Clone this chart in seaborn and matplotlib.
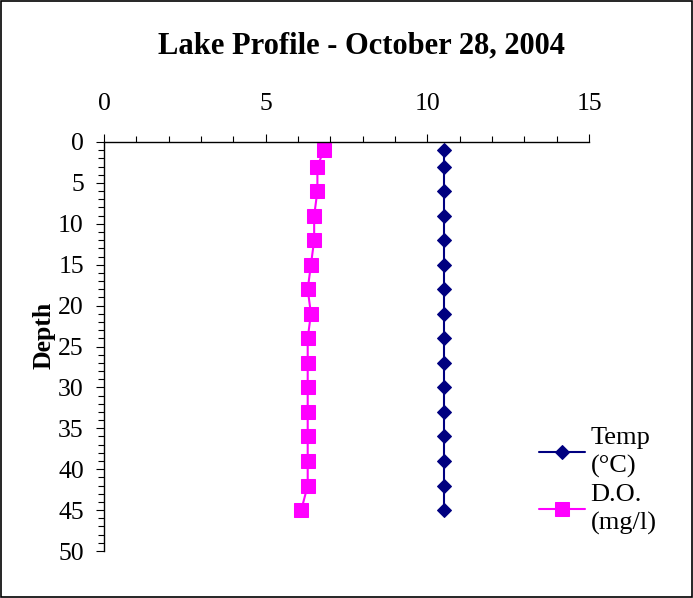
import pandas as pd
import matplotlib.pyplot as plt
import seaborn as sns
from matplotlib.patches import Rectangle
from matplotlib.ticker import MultipleLocator

# Datos
profundidad = [1, 3, 6, 9, 12, 15, 18, 21, 24, 27, 30, 33, 36, 39, 42, 45]
temp = [10.5] * 16
oxigeno = [6.8, 6.6, 6.6, 6.5, 6.5, 6.4, 6.3, 6.4, 6.3, 6.3, 6.3, 6.3, 6.3, 6.3, 6.3, 6.1]

df = pd.DataFrame({"Depth": profundidad, "Temp": temp, "DO": oxigeno})

sns.set_theme(style="white")
plt.rcParams['font.family'] = ['Liberation Serif', 'DejaVu Serif']

fig = plt.figure(figsize=(6.93, 5.98), dpi=100)
ax = fig.add_axes([104 / 693, 1 - 551 / 598, (589 - 104) / 693, (551 - 142) / 598])

sns.lineplot(data=df, x="Temp", y="Depth", orient="y", estimator=None, color="#000080",
             marker="D", markersize=7.5, markeredgecolor="#000080", linewidth=1.5, ax=ax,
             label="Temp\n(°C)")
sns.lineplot(data=df, x="DO", y="Depth", orient="y", estimator=None, color="#FF00FF",
             marker="s", markersize=10, markeredgecolor="#FF00FF", linewidth=1.5, ax=ax,
             label="D.O.\n(mg/l)")

ax.set_xlim(0, 15)
ax.set_ylim(50, 0)
ax.xaxis.tick_top()
ax.xaxis.set_major_locator(MultipleLocator(5))
ax.xaxis.set_minor_locator(MultipleLocator(1))
ax.yaxis.set_major_locator(MultipleLocator(5))
ax.yaxis.set_minor_locator(MultipleLocator(1))
ax.tick_params(axis="both", which="major", direction="out", length=5.5, width=0.8,
               labelsize=18.5, color="black", labelcolor="black")
ax.tick_params(axis="both", which="minor", direction="out", length=4, width=0.8, color="black")
ax.tick_params(axis="x", which="both", top=True, bottom=False, pad=14)
ax.tick_params(axis="y", which="both", left=True, right=False, pad=9)

for lado in ["right", "bottom"]:
    ax.spines[lado].set_visible(False)
for lado in ["left", "top"]:
    ax.spines[lado].set_color("black")
    ax.spines[lado].set_linewidth(1)

ax.set_xlabel("")
ax.set_ylabel("Depth", fontsize=18.5, fontweight="bold", color="black")
ax.yaxis.set_label_coords(-0.1, 0.528)
ax.grid(False)

fig.text(361 / 693, 1 - 46 / 598, "Lake Profile - October 28, 2004", ha="center", va="center",
         fontsize=22, fontweight="bold", color="black")

leg = ax.legend(loc="upper left", bbox_to_anchor=(526 / 693, 1 - 414 / 598),
                bbox_transform=fig.transFigure, frameon=False, fontsize=19,
                handlelength=1.75, handletextpad=0.2, labelspacing=0.25, borderpad=0)
for t in leg.get_texts():
    t.set_color("black")
    t.set_linespacing(1.3)

fig.patches.append(Rectangle((0.002, 0.002), 0.996, 0.996, transform=fig.transFigure,
                             fill=False, edgecolor="black", linewidth=1.2))

plt.savefig("out.png", dpi=100)
plt.close()
